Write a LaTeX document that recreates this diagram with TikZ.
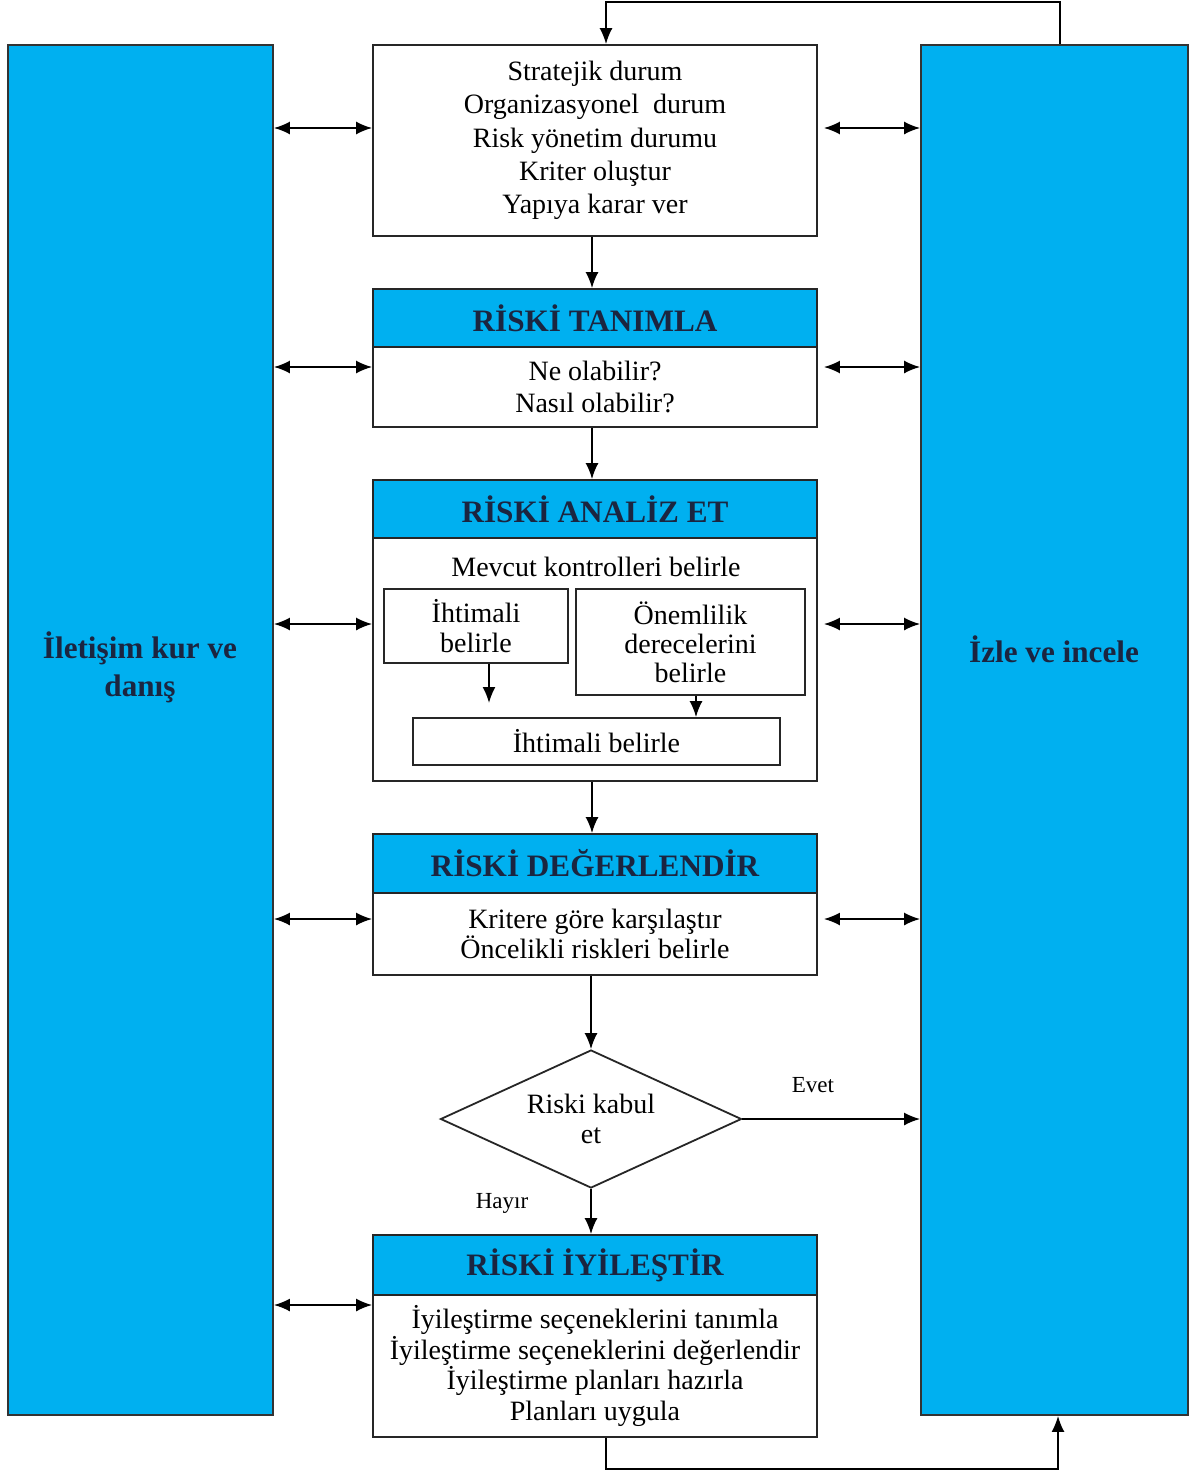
\documentclass[tikz,border=0pt]{standalone}
\usepackage{fontspec}
\setmainfont{Liberation Serif}
\usetikzlibrary{arrows.meta,fit,shapes.geometric}
\definecolor{skyblue}{HTML}{00B0F0}
\definecolor{navy}{HTML}{1B2540}
\begin{document}
\begin{tikzpicture}[x=0.5pt,y=-0.5pt,
  panel/.style={draw=black!80, fill=skyblue, line width=0.9pt, inner sep=0pt},
  plain/.style={draw=black!85, fill=white, line width=0.9pt, inner sep=0pt},
  headbox/.style={draw=black!85, fill=skyblue, line width=0.9pt, inner sep=0pt},
  headtext/.style={inner sep=0pt, text=navy, font=\fontsize{15.6}{18}\selectfont\bfseries},
  txt/.style={align=center, inner sep=0pt, font=\fontsize{14}{15}\selectfont},
  side/.style={align=center, inner sep=0pt, text=navy, font=\fontsize{15.6}{18}\selectfont\bfseries},
  small/.style={inner sep=0pt, font=\fontsize{11.5}{13}\selectfont},
  link/.style={-{Latex[length=8pt,width=6.5pt]}, line width=0.9pt},
  both/.style={{Latex[length=8pt,width=6.5pt]}-{Latex[length=8pt,width=6.5pt]}, line width=0.9pt}
]
\useasboundingbox (0,0) rectangle (1200,1472);

% side panels
\node[panel, fit={(8,45)(273,1415)}] (left) {};
\node[panel, fit={(921,45)(1188,1415)}] (right) {};
\node[side] (leftlbl) at (140,667) {İletişim kur ve\\[1pt]danış};
\node[side] (rightlbl) at (1054,649) {İzle ve incele};

% context box
\node[plain, fit={(373,45)(817,236)}] (ctx) {};
\node[txt, font=\fontsize{14}{16.6}\selectfont] (ctxt) at (ctx.center) {Stratejik durum\\Organizasyonel~ durum\\Risk yönetim durumu\\Kriter oluştur\\Yapıya karar ver};

% identify
\node[headbox, fit={(373,289)(817,347)}] (idh) {};
\node[headtext] (idht) at (idh.center) {RİSKİ TANIMLA};
\node[plain, fit={(373,347)(817,427)}] (idb) {};
\node[txt, font=\fontsize{14}{16}\selectfont] (idbt) at (idb.center) {Ne olabilir?\\Nasıl olabilir?};

% analyse
\node[headbox, fit={(373,480)(817,538)}] (anh) {};
\node[headtext] (anht) at (anh.center) {RİSKİ ANALİZ ET};
\node[plain, fit={(373,538)(817,781)}] (anb) {};
\node[txt] (mev) at (596,567) {Mevcut kontrolleri belirle};
\node[plain, fit={(384,589)(568,663)}] (sa) {};
\node[txt, font=\fontsize{14}{14.6}\selectfont] (sat) at (sa.center) {İhtimali\\belirle};
\node[plain, fit={(576,589)(805,695)}] (sb) {};
\node[txt, font=\fontsize{14}{14.6}\selectfont] (sbt) at (sb.center) {Önemlilik\\derecelerini\\belirle};
\node[plain, fit={(413,718)(780,765)}] (sc) {};
\node[txt] (sct) at (sc.center) {İhtimali belirle};
\coordinate (saend) at (489,703);
\draw[link] (sa.south -| saend) -- (saend);
\coordinate (sbx) at (696,0);
\draw[link] (sb.south -| sbx) -- (sc.north -| sbx);

% evaluate
\node[headbox, fit={(373,834)(817,893)}] (evh) {};
\node[headtext] (evht) at (evh.center) {RİSKİ DEĞERLENDİR};
\node[plain, fit={(373,893)(817,975)}] (evb) {};
\node[txt, font=\fontsize{14}{15}\selectfont] (evbt) at (evb.center) {Kritere göre karşılaştır\\Öncelikli riskleri belirle};

% decision
\node[diamond, draw=black!85, line width=0.9pt, fill=white, inner sep=0pt,
  minimum width=150.5pt, minimum height=69pt] (dec) at (591,1119) {};
\node[txt, font=\fontsize{14}{14.6}\selectfont] (dect) at (dec.center) {Riski kabul\\et};
\node[small] (evet) at (813,1085) {Evet};
\node[small] (hayir) at (502,1203) {Hayır};

% treat
\node[headbox, fit={(373,1235)(817,1295)}] (trh) {};
\node[headtext] (trht) at (trh.center) {RİSKİ İYİLEŞTİR};
\node[plain, fit={(373,1295)(817,1437)}] (trb) {};
\node[txt, font=\fontsize{14}{15.3}\selectfont] (trbt) at (trb.center) {İyileştirme seçeneklerini tanımla\\İyileştirme seçeneklerini değerlendir\\İyileştirme planları hazırla\\Planları uygula};

% main flow
\coordinate (ax) at (592,0);
\draw[link] (ctx.south -| ax) -- (idh.north -| ax);
\draw[link] (idb.south -| ax) -- (anh.north -| ax);
\draw[link] (anb.south -| ax) -- (evh.north -| ax);
\draw[link] (evb.south -| dec.north) -- (dec.north);
\draw[link] (dec.south) -- (trh.north -| dec.south);
\draw[link] (dec.east) -- (right.west |- dec.east);

% exchanges with the side panels
\coordinate (r1) at (0,128);
\coordinate (r2) at (0,367);
\coordinate (r3) at (0,624);
\coordinate (r4) at (0,919);
\coordinate (r5) at (0,1305);
\draw[both] (left.east |- r1) -- (ctx.west |- r1);
\draw[both] (left.east |- r2) -- (idb.west |- r2);
\draw[both] (left.east |- r3) -- (anb.west |- r3);
\draw[both] (left.east |- r4) -- (evb.west |- r4);
\draw[both] (left.east |- r5) -- (trb.west |- r5);
\draw[both, shorten <=3pt] (ctx.east |- r1) -- (right.west |- r1);
\draw[both, shorten <=3pt] (idb.east |- r2) -- (right.west |- r2);
\draw[both, shorten <=3pt] (anb.east |- r3) -- (right.west |- r3);
\draw[both, shorten <=3pt] (evb.east |- r4) -- (right.west |- r4);

% feedback loops
\coordinate (topA) at (1060,2);
\coordinate (topB) at (606,2);
\draw[link] (right.north -| topA) -- (topA) -- (topB) -- (ctx.north -| topB);
\coordinate (botA) at (606,1469);
\coordinate (botB) at (1058,1469);
\draw[link] (trb.south -| botA) -- (botA) -- (botB) -- (right.south -| botB);
\end{tikzpicture}
\end{document}
